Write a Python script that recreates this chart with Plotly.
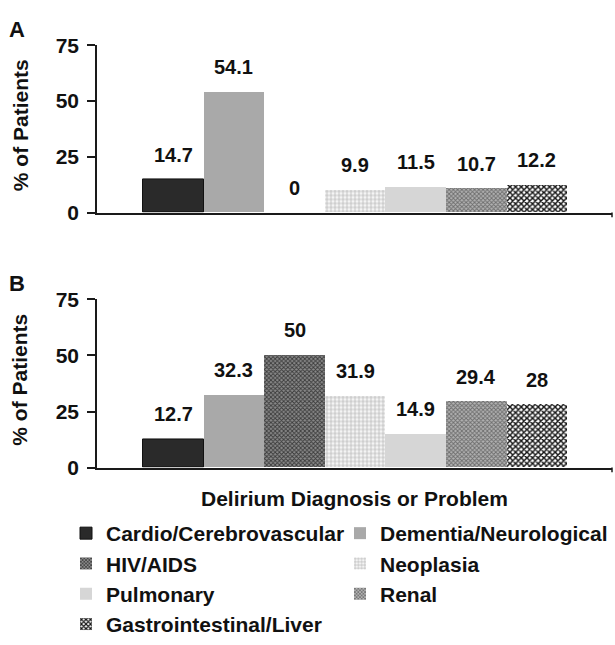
import plotly.graph_objects as go

categories = ["Cardio/Cerebrovascular", "Dementia/Neurological", "HIV/AIDS",
              "Neoplasia", "Pulmonary", "Renal", "Gastrointestinal/Liver"]
values_a = [14.7, 54.1, 0, 9.9, 11.5, 10.7, 12.2]
values_b = [12.7, 32.3, 50, 31.9, 14.9, 29.4, 28]
y_ticks = [0, 25, 50, 75]
panel_labels = ["A", "B"]
y_title = "% of Patients"
x_title = "Delirium Diagnosis or Problem"

styles = [
    dict(color="#2a2a2a", line=dict(color="#111111", width=1)),
    dict(color="#a9a9a9", line=dict(width=0)),
    dict(color="#6e6e6e", line=dict(width=0),
         pattern=dict(shape="x", size=3, solidity=0.5, fgcolor="#3a3a3a", bgcolor="#8a8a8a", fillmode="replace")),
    dict(color="#eeeeee", line=dict(width=0),
         pattern=dict(shape="+", size=4, solidity=0.3, fgcolor="#adadad", bgcolor="#f4f4f4", fillmode="replace")),
    dict(color="#d6d6d6", line=dict(width=0)),
    dict(color="#999999", line=dict(width=0),
         pattern=dict(shape="x", size=3, solidity=0.5, fgcolor="#6c6c6c", bgcolor="#b2b2b2", fillmode="replace")),
    dict(color="#333333", line=dict(width=0),
         pattern=dict(shape="x", size=4, solidity=0.6, fgcolor="#151515", bgcolor="#ffffff", fillmode="replace")),
]

FONT = "Liberation Sans, Arial, sans-serif"
W, H = 615, 645

fig = go.Figure()
for i, cat in enumerate(categories):
    fig.add_trace(go.Bar(x=[cat], y=[values_a[i]], name=cat, marker=styles[i],
                         legendgroup=cat, showlegend=True, xaxis="x", yaxis="y",
                         width=1, hoverinfo="x+y"))
for i, cat in enumerate(categories):
    fig.add_trace(go.Bar(x=[cat], y=[values_b[i]], name=cat, marker=styles[i],
                         legendgroup=cat, showlegend=False, xaxis="x2", yaxis="y2",
                         width=1, hoverinfo="x+y"))

annotations = []
for xr, yr, vals in (("x", "y", values_a), ("x2", "y2", values_b)):
    for cat, v in zip(categories, vals):
        annotations.append(dict(x=cat, y=v, xref=xr, yref=yr, text=f"{v:g}",
                                showarrow=False, yshift=25,
                                font=dict(family=FONT, size=20, color="#111", weight="bold")))

x_dom = [97 / W, 612 / W]
ya_dom = [(H - 210) / H, (H - 35) / H]
yb_dom = [(H - 477) / H, (H - 301) / H]

for lab, dom in zip(panel_labels, (ya_dom, yb_dom)):
    annotations.append(dict(x=17 / W, y=dom[1] + 17 / H, xref="paper", yref="paper", text=lab,
                            showarrow=False, xanchor="center", yanchor="middle",
                            font=dict(family=FONT, size=22, color="#111", weight="bold")))
    annotations.append(dict(x=20 / W, y=(dom[0] + dom[1]) / 2 + 4 / H, xref="paper", yref="paper",
                            text=y_title, textangle=-90, showarrow=False,
                            xanchor="center", yanchor="middle",
                            font=dict(family=FONT, size=21, color="#111", weight="bold")))

annotations.append(dict(x=(x_dom[0] + x_dom[1]) / 2, y=(H - 509) / H, xref="paper", yref="paper",
                        text=x_title, showarrow=False, xanchor="center", yanchor="middle",
                        font=dict(family=FONT, size=21, color="#111", weight="bold")))

xaxis_common = dict(domain=x_dom, type="category", categoryorder="array", categoryarray=categories,
                    range=[-1.26, 7.24], showline=True, linecolor="#1a1a1a", linewidth=1.5,
                    showticklabels=False, ticks="", showgrid=False, zeroline=False, fixedrange=True)
yaxis_common = dict(range=[0, 75], tickvals=y_ticks, showline=True, linecolor="#1a1a1a", linewidth=1.5,
                    ticks="outside", ticklen=8, tickwidth=1.5, tickcolor="#1a1a1a",
                    ticklabelstandoff=4, showgrid=False, zeroline=False, fixedrange=True,
                    tickfont=dict(family=FONT, size=21, color="#111", weight="bold"))

fig.update_layout(
    width=W, height=H, margin=dict(l=0, r=0, t=0, b=0),
    paper_bgcolor="white", plot_bgcolor="white",
    barmode="overlay", bargap=0,
    xaxis=dict(xaxis_common, anchor="y"),
    yaxis=dict(yaxis_common, domain=ya_dom, anchor="x"),
    xaxis2=dict(xaxis_common, anchor="y2"),
    yaxis2=dict(yaxis_common, domain=yb_dom, anchor="x2"),
    showlegend=True,
    legend=dict(orientation="h", x=66 / W, xanchor="left", y=(H - 525) / H, yanchor="top",
                entrywidth=229, entrywidthmode="pixels",
                font=dict(family=FONT, size=21, color="#111", weight="bold"),
                itemclick=False, itemdoubleclick=False, traceorder="normal",
                bgcolor="rgba(0,0,0,0)"),
    annotations=annotations,
    shapes=[dict(type="line", xref="paper", yref="paper", x0=x_dom[1], x1=x_dom[1],
                 y0=d[0], y1=d[0] - 5 / H, line=dict(color="#1a1a1a", width=1.5))
            for d in (ya_dom, yb_dom)],
)

fig.write_html("out.html", config={"displayModeBar": False, "staticPlot": False},
               post_script="document.body.style.margin='0';document.body.style.overflow='hidden';")
